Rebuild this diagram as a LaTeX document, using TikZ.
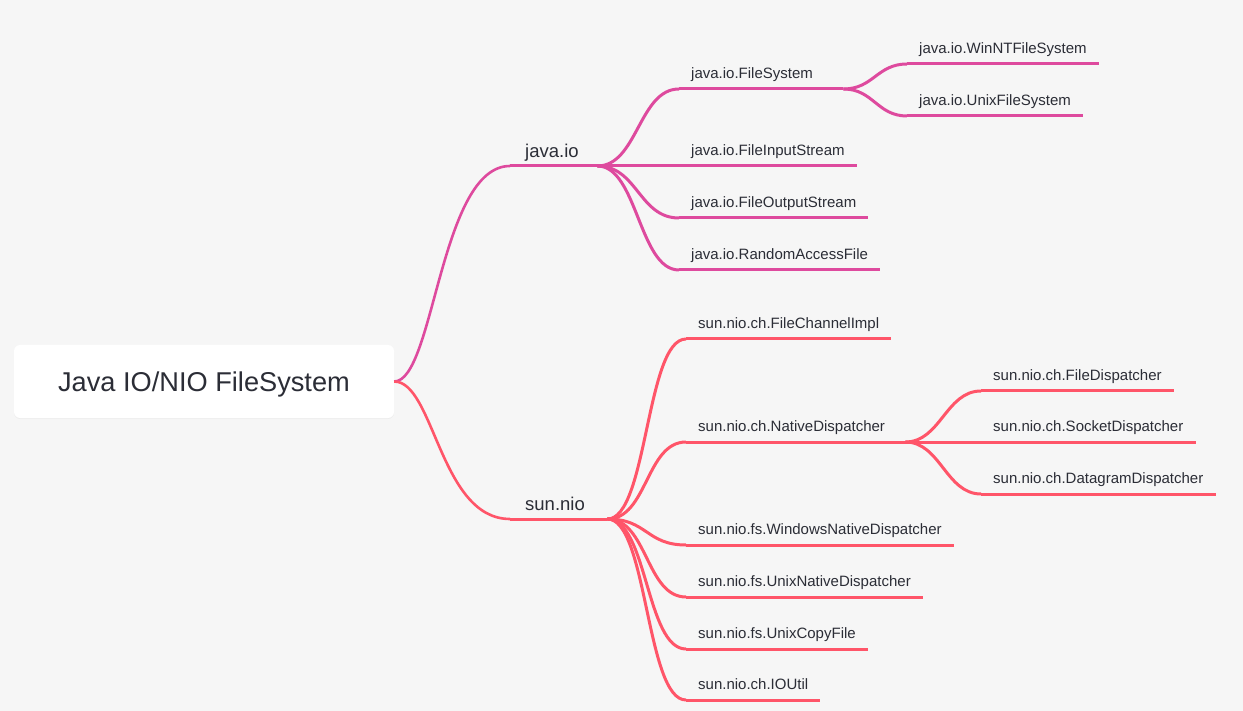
\documentclass[tikz,border=0pt]{standalone}
\usepackage{fontspec}
\setmainfont{Liberation Sans}
\usetikzlibrary{shadows}

\definecolor{bgcol}{HTML}{F6F6F6}
\definecolor{inkcol}{HTML}{2B2D36}
\definecolor{iocol}{HTML}{DE4A9E}
\definecolor{niocol}{HTML}{FF5569}

\tikzset{
  rootbox/.style={fill=white, rounded corners=6pt, minimum width=380pt, minimum height=73pt,
    text depth=0pt, font=\fontsize{27.2}{30}\selectfont, text=inkcol,
    drop shadow={opacity=.07, shadow xshift=0pt, shadow yshift=-1pt}},
  pkg/.style={anchor=south west, inner xsep=15pt, inner ysep=0pt, text depth=8pt, align=left,
    font=\fontsize{18.5}{22}\selectfont, text=inkcol},
  cls/.style={anchor=south west, inner xsep=12pt, inner ysep=0pt, text depth=10pt, align=left,
    font=\fontsize{15}{18}\selectfont, text=inkcol},
  uline/.style={line width=3pt},
  branch/.style={line width=3pt, to path={.. controls +(#1,0) and +(-#1,0) .. (\tikztotarget)}},
  branch/.default=40,
}

\begin{document}
\begin{tikzpicture}[x=1pt,y=-1pt]
  \useasboundingbox (0,0) rectangle (1243,711);
  \fill[bgcol] (0,0) rectangle (1243,711);

  \node[rootbox] (root) at (204,381.5) {Java IO/NIO FileSystem};

  \node[pkg, text width=57pt] (javaio) at (510,166) {java.io};
  \node[pkg, text width=67pt] (sunnio) at (510,519) {sun.nio};

  \node[cls, text width=140pt] (fs) at (679,89)  {java.io.FileSystem};
  \node[cls] (fis)    at (679,166) {java.io.FileInputStream};
  \node[cls] (fos)    at (679,218) {java.io.FileOutputStream};
  \node[cls] (raf)    at (679,270) {java.io.RandomAccessFile};
  \node[cls] (winnt)  at (907,64)  {java.io.WinNTFileSystem};
  \node[cls] (unixfs) at (907,116) {java.io.UnixFileSystem};

  \node[cls] (fci)    at (686,339) {sun.nio.ch.FileChannelImpl};
  \node[cls, text width=195pt] (nd) at (686,442) {sun.nio.ch.NativeDispatcher};
  \node[cls] (wnd)    at (686,545) {sun.nio.fs.WindowsNativeDispatcher};
  \node[cls] (und)    at (686,597) {sun.nio.fs.UnixNativeDispatcher};
  \node[cls] (ucf)    at (686,649) {sun.nio.fs.UnixCopyFile};
  \node[cls] (ioutil) at (686,700) {sun.nio.ch.IOUtil};
  \node[cls] (fd)     at (981,391) {sun.nio.ch.FileDispatcher};
  \node[cls] (sd)     at (981,442) {sun.nio.ch.SocketDispatcher};
  \node[cls] (dd)     at (981,494) {sun.nio.ch.DatagramDispatcher};

  \foreach \n in {javaio,fs,fis,fos,raf,winnt,unixfs}
    \draw[iocol, uline] (\n.south west) -- (\n.south east);
  \foreach \n in {sunnio,fci,nd,wnd,und,ucf,ioutil,fd,sd,dd}
    \draw[niocol, uline] (\n.south west) -- (\n.south east);

  \draw[iocol, line width=2.6pt] (root.east) .. controls +(40,0) and +(-70,0) .. (javaio.south west);
  \draw[niocol, line width=2.6pt] (root.east) .. controls +(40,0) and +(-70,0) .. (sunnio.south west);

  \path[draw=iocol]
        (javaio.south east) edge[branch]    (fs.south west)
        (javaio.south east) edge[branch]    (fis.south west)
        (javaio.south east) edge[branch]    (fos.south west)
        (javaio.south east) edge[branch]    (raf.south west)
        (fs.south east)     edge[branch=30] (winnt.south west)
        (fs.south east)     edge[branch=30] (unixfs.south west);
  \path[draw=niocol]
        (sunnio.south east) edge[branch]    (fci.south west)
        (sunnio.south east) edge[branch]    (nd.south west)
        (sunnio.south east) edge[branch]    (wnd.south west)
        (sunnio.south east) edge[branch]    (und.south west)
        (sunnio.south east) edge[branch]    (ucf.south west)
        (sunnio.south east) edge[branch]    (ioutil.south west)
        (nd.south east)     edge[branch=35] (fd.south west)
        (nd.south east)     edge[branch=35] (sd.south west)
        (nd.south east)     edge[branch=35] (dd.south west);
\end{tikzpicture}
\end{document}
